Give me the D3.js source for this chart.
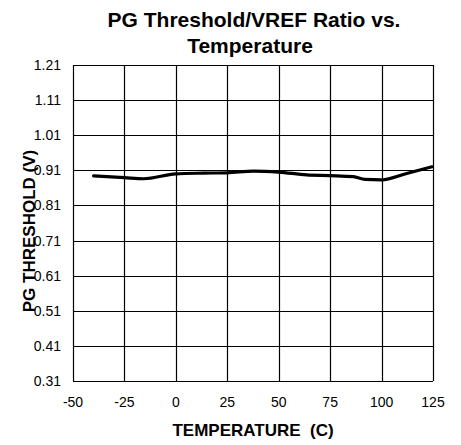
<!DOCTYPE html>
<html><head><meta charset="utf-8">
<script src="https://cdn.jsdelivr.net/npm/d3@7"></script>
<style>body{margin:0;background:#fff;} text{font-family:"Liberation Sans",Arial,sans-serif;}</style>
</head><body><svg id="c" width="461" height="445"></svg>
<script>
const temps = [-40, -25, -15.6, 0, 13.4, 25, 37.7, 50, 63.6, 75, 86.3, 92, 100, 112.2, 124.5];
const volts = [0.894, 0.889, 0.886, 0.900, 0.902, 0.903, 0.908, 0.905, 0.897, 0.895, 0.892, 0.884, 0.883, 0.901, 0.920];
const xTicks = [-50, -25, 0, 25, 50, 75, 100, 125];
const yTicks = [0.31, 0.41, 0.51, 0.61, 0.71, 0.81, 0.91, 1.01, 1.11, 1.21];

const svg = d3.select("#c");
const L = 73, R = 433, T = 65, B = 381;
const x = d3.scaleLinear().domain([-50, 125]).range([L, R]);
const y = d3.scaleLinear().domain([0.31, 1.21]).range([B, T]);

const g = svg.append("g");
g.selectAll(".vg").data(xTicks).enter().append("line")
  .attr("x1", d => Math.round(x(d)) + 0.5).attr("x2", d => Math.round(x(d)) + 0.5)
  .attr("y1", T).attr("y2", B).attr("stroke", "#000").attr("stroke-width", 1.2);
g.selectAll(".hg").data(yTicks).enter().append("line")
  .attr("y1", d => Math.round(y(d)) + 0.5).attr("y2", d => Math.round(y(d)) + 0.5)
  .attr("x1", L).attr("x2", R).attr("stroke", "#000").attr("stroke-width", 1.2);

g.selectAll(".yl").data(yTicks).enter().append("text")
  .attr("x", 61).attr("y", d => y(d) + 5).attr("text-anchor", "end")
  .attr("font-size", 14).text(d => d.toFixed(2));
g.selectAll(".xl").data(xTicks).enter().append("text")
  .attr("x", d => x(d)).attr("y", 407).attr("text-anchor", "middle")
  .attr("font-size", 14).text(d => d);

const line = d3.line().x((d, i) => x(temps[i])).y(d => y(d)).curve(d3.curveMonotoneX);
svg.append("path").datum(volts).attr("d", line).attr("fill", "none")
  .attr("stroke", "#000").attr("stroke-width", 3.2).attr("stroke-linecap", "round");

svg.append("text").attr("x", 254).attr("y", 27).attr("text-anchor", "middle")
  .attr("font-size", 21).attr("font-weight", "bold").text("PG Threshold/VREF Ratio vs.");
svg.append("text").attr("x", 250).attr("y", 53).attr("text-anchor", "middle")
  .attr("font-size", 21).attr("font-weight", "bold").text("Temperature");
svg.append("text").attr("x", 253).attr("y", 436).attr("text-anchor", "middle")
  .attr("font-size", 17).attr("font-weight", "bold").style("white-space", "pre").text("TEMPERATURE  (C)");
svg.append("text").attr("transform", "translate(35,231) rotate(-90)").attr("text-anchor", "middle")
  .attr("font-size", 17).attr("font-weight", "bold").text("PG THRESHOLD (V)");
</script></body></html>
